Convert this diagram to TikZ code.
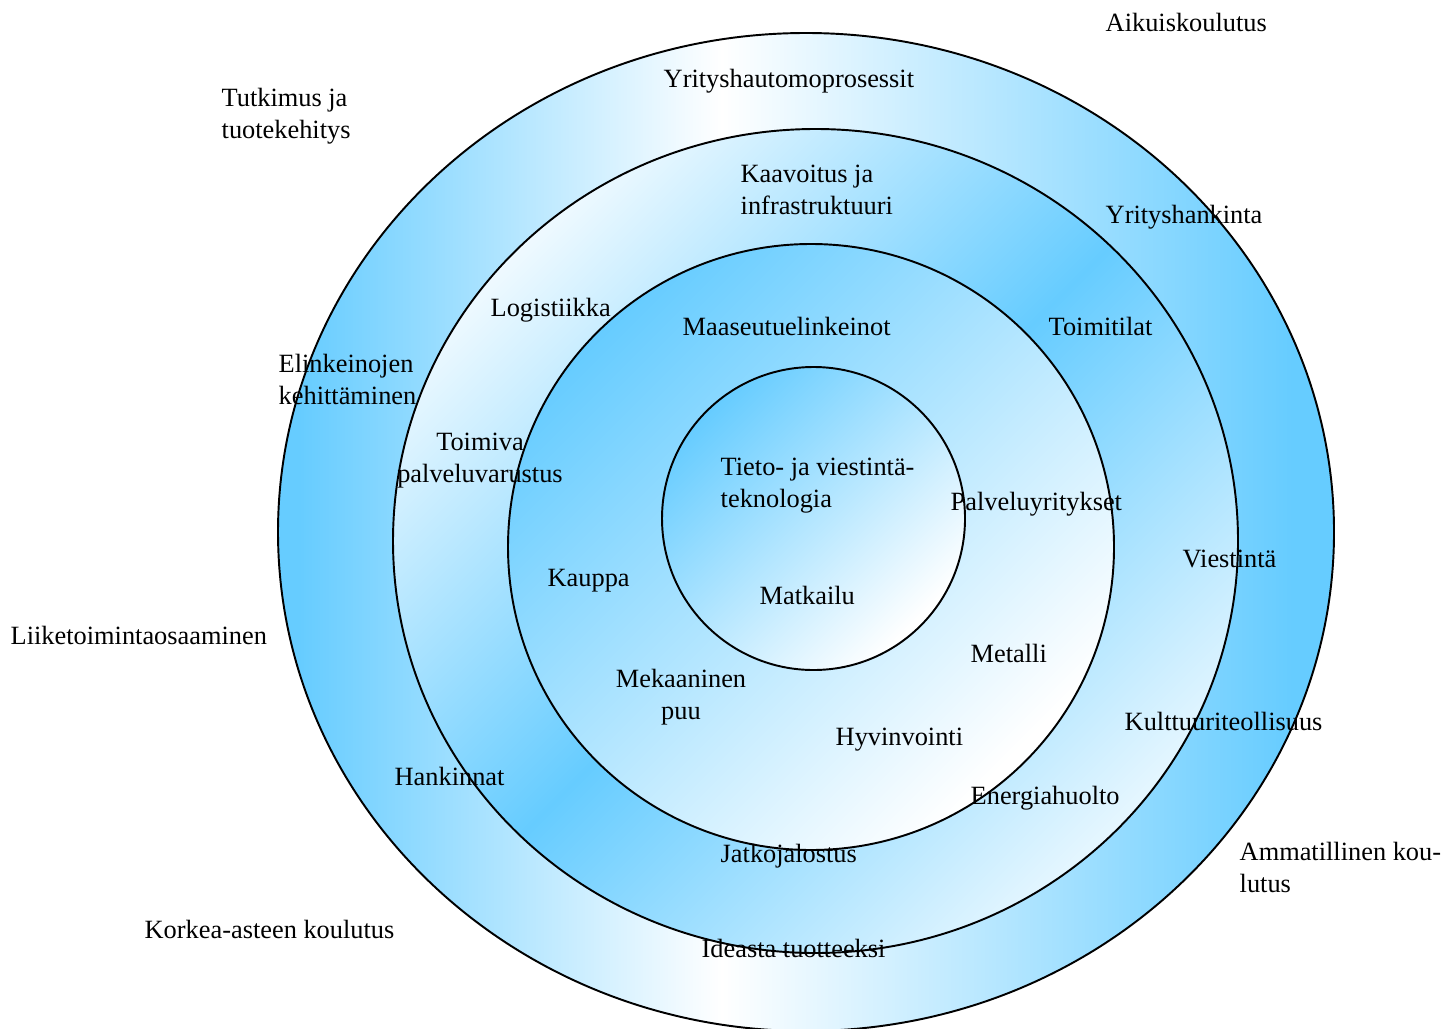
\documentclass[tikz,border=0pt]{standalone}
\usepackage{fontspec}
\setmainfont{Liberation Serif}
\definecolor{ringblue}{RGB}{102,204,255}
\pgfdeclarehorizontalshading{bandouter}{100bp}{color(0bp)=(ringblue); color(26bp)=(ringblue); color(46bp)=(white); color(73bp)=(ringblue); color(100bp)=(ringblue)}
\pgfdeclarehorizontalshading{bandmid}{100bp}{color(0bp)=(white); color(22bp)=(white); color(50bp)=(ringblue); color(80bp)=(white); color(100bp)=(white)}
\pgfdeclarehorizontalshading{bandinner}{100bp}{color(0bp)=(ringblue); color(25bp)=(ringblue); color(74bp)=(white); color(100bp)=(white)}
\tikzset{ring/.style={draw=black, line width=0.55pt}}
\tikzset{
    every node/.style={inner sep=0pt, anchor=base west,
    	font=\fontsize{7.5}{9.1}\selectfont}
}

\begin{document}
\begin{tikzpicture}
  \useasboundingbox (0,0) rectangle (14.56,-10.28);
  \shadedraw[ring, shading=bandouter] (8.06,-5.32) ellipse [x radius=5.28, y radius=4.99];
  \shadedraw[ring, shading=bandmid, shading angle=-45] (8.155,-5.41) ellipse [x radius=4.225, y radius=4.12];
  \shadedraw[ring, shading=bandinner, shading angle=-45] (8.11,-5.47) circle [radius=3.03];
  \shadedraw[ring, shading=bandinner, shading angle=-45] (8.135,-5.185) circle [radius=1.515];

  \node (aikuis) at (11.05, -0.32) {Aikuiskoulutus};
  \node (tutkimus) [align=left] at (2.21, -1.38) {Tutkimus ja\\tuotekehitys};
  \node (hautomo) at (6.63, -0.88) {Yrityshautomoprosessit};
  \node (kaavoitus) [align=left] at (7.40, -2.14) {Kaavoitus ja\\infrastruktuuri};
  \node (hankinta) at (11.05, -2.23) {Yrityshankinta};
  \node (logistiikka) at (4.90, -3.16) {Logistiikka};
  \node (maaseutu) at (6.82, -3.35) {Maaseutuelinkeinot};
  \node (toimitilat) at (10.48, -3.35) {Toimitilat};
  \node (elinkeino) [align=left] at (2.78, -4.04) {Elinkeinojen\\kehittäminen};
  \node (toimiva) [anchor=base, align=center] at (4.80, -4.82) {Toimiva\\palveluvarustus};
  \node (tvt) [align=left] at (7.20, -5.07) {Tieto- ja viestintä-\\teknologia};
  \node (palvelu) at (9.50, -5.10) {Palveluyritykset};
  \node (viestinta) at (11.82, -5.67) {Viestintä};
  \node (liike) at (0.10, -6.44) {Liiketoimintaosaaminen};
  \node (kauppa) at (5.47, -5.86) {Kauppa};
  \node (matkailu) at (7.59, -6.04) {Matkailu};
  \node (metalli) at (9.70, -6.62) {Metalli};
  \node (mekaaninen) [anchor=base, align=center] at (6.81, -7.19) {Mekaaninen\\puu};
  \node (kulttuuri) at (11.24, -7.30) {Kulttuuriteollisuus};
  \node (hyvinvointi) at (8.35, -7.45) {Hyvinvointi};
  \node (hankinnat) at (3.94, -7.85) {Hankinnat};
  \node (energia) at (9.70, -8.045) {Energiahuolto};
  \node (jatko) at (7.20, -8.62) {Jatkojalostus};
  \node (ammatti) [align=left] at (12.39, -8.92) {Ammatillinen kou-\\lutus};
  \node (korkea) at (1.44, -9.38) {Korkea-asteen koulutus};
  \node (ideasta) at (7.01, -9.57) {Ideasta tuotteeksi};
\end{tikzpicture}
\end{document}
